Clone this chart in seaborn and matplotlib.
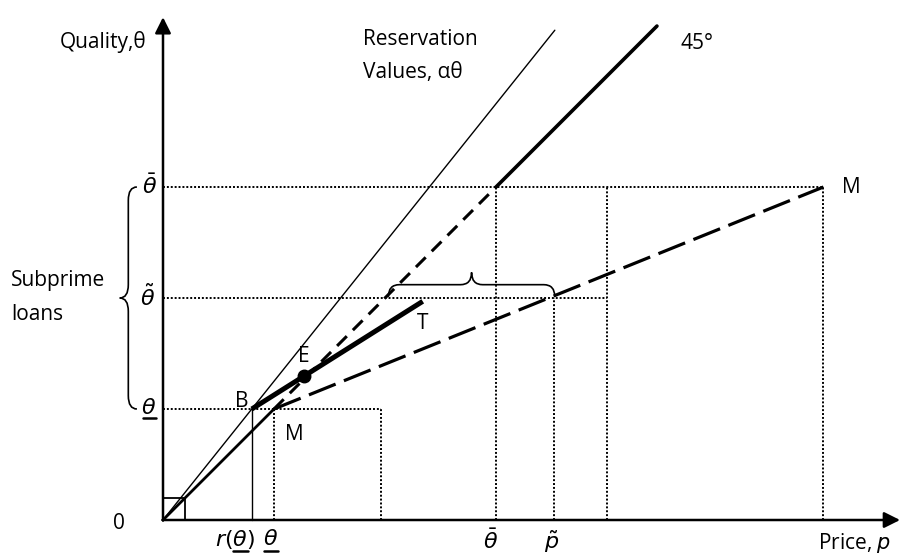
import numpy as np
import pandas as pd
import matplotlib
matplotlib.use("Agg")
import matplotlib.pyplot as plt
from matplotlib.path import Path
from matplotlib.patches import PathPatch, Rectangle
import seaborn as sns

# ---- key values of the diagram (units: quality / price) ----
theta_low = 1.0      # lower quality bound (underline theta)
theta_tilde = 2.0    # theta tilde
theta_bar = 3.0      # theta bar
r_theta_low = 0.8    # r(theta_low)
alpha = 1.25         # slope of reservation values line
p_tilde = 3.52       # p tilde
x_rect = 1.96        # right edge of small dotted box
x_mid = 4.0          # dotted vertical beyond p tilde
p_M = 5.95           # price at upper M
res_end = 3.53       # end of reservation line (x)
deg45_end = 4.45     # end of 45 degree line (x)
T_end = (2.34, 1.97) # end of T line
E_pt = (1.27, 1.30)  # point E
x_axis_end = 6.64
y_axis_end = 4.53

sns.set_theme(style="white")
plt.rcParams['font.family'] = ['Open Sans', 'DejaVu Sans']
plt.rcParams['mathtext.fontset'] = 'dejavusans'

W, H = 901, 556
scale = 111.0
ox, oy = 163, 520
fig = plt.figure(figsize=(W / 100, H / 100), dpi=100)
ax = fig.add_axes([0, 0, 1, 1])
ax.set_xlim(-ox / scale, (W - ox) / scale)
ax.set_ylim(-(H - oy) / scale, oy / scale)
ax.axis('off')

def line(xs, ys, **kw):
    df = pd.DataFrame({'x': xs, 'y': ys})
    sns.lineplot(data=df, x='x', y='y', ax=ax, estimator=None, sort=False,
                 color='black', legend=False, **kw)

dot = dict(lw=1.4, linestyle=(0, (1, 1)))

# dotted guide lines
line([0, p_M], [theta_bar, theta_bar], **dot)
line([0, x_mid], [theta_tilde, theta_tilde], **dot)
line([0, x_rect], [theta_low, theta_low], **dot)
line([theta_low, theta_low], [0, theta_low], **dot)
line([x_rect, x_rect], [0, theta_low], **dot)
line([theta_bar, theta_bar], [0, theta_bar], **dot)
line([p_tilde, p_tilde], [0, theta_tilde], **dot)
line([x_mid, x_mid], [0, theta_bar], **dot)
line([p_M, p_M], [0, theta_bar], **dot)
# r(theta) solid thin
line([r_theta_low, r_theta_low], [0, theta_low], lw=1.0)

# reservation values line
line([0, res_end], [0, alpha * res_end], lw=1.0)
# 45 degree line: solid to theta_low, dashed to theta_bar, thick beyond
line([0, theta_low], [0, theta_low], lw=2.0)
line([theta_low, theta_bar], [theta_low, theta_bar], lw=2.2, linestyle=(0, (4.5, 2.8)))
line([theta_bar, deg45_end], [theta_bar, deg45_end], lw=2.6)
# M line dashed
line([theta_low, p_M], [theta_low, theta_bar], lw=2.3, linestyle=(0, (9, 2.8)))
# T line
line([r_theta_low, T_end[0]], [theta_low, T_end[1]], lw=3.6, solid_capstyle='butt')
# E point
ax.plot([E_pt[0]], [E_pt[1]], 'o', color='black', ms=9)

# small square at origin
ax.add_patch(Rectangle((0, 0), 0.2, 0.2, fill=False, lw=1.3, ec='black'))

# axes with arrows
ax.annotate('', xy=(0, y_axis_end), xytext=(0, -0.005),
            arrowprops=dict(arrowstyle='-|>', lw=1.8, color='black', mutation_scale=24,
                            shrinkA=0, shrinkB=0))
ax.annotate('', xy=(x_axis_end, 0), xytext=(-0.005, 0),
            arrowprops=dict(arrowstyle='-|>', lw=1.8, color='black', mutation_scale=24,
                            shrinkA=0, shrinkB=0))

# braces
def vbrace(x0, yb, yt, d, r):
    ym = (yb + yt) / 2
    xm = x0 - d / 2
    verts = [(x0, yb), (xm, yb), (xm, yb + r), (xm, ym - r), (xm, ym), (x0 - d, ym),
             (xm, ym), (xm, ym + r), (xm, yt - r), (xm, yt), (x0, yt)]
    codes = [Path.MOVETO, Path.CURVE3, Path.CURVE3, Path.LINETO, Path.CURVE3, Path.CURVE3,
             Path.CURVE3, Path.CURVE3, Path.LINETO, Path.CURVE3, Path.CURVE3]
    ax.add_patch(PathPatch(Path(verts, codes), fill=False, lw=1.2, ec='black'))

def hbrace(xl, xr, y0, d, r):
    xmid = (xl + xr) / 2
    ymm = y0 + d / 2
    verts = [(xl, y0), (xl, ymm), (xl + r, ymm), (xmid - r, ymm), (xmid, ymm), (xmid, y0 + d),
             (xmid, ymm), (xmid + r, ymm), (xr - r, ymm), (xr, ymm), (xr, y0)]
    codes = [Path.MOVETO, Path.CURVE3, Path.CURVE3, Path.LINETO, Path.CURVE3, Path.CURVE3,
             Path.CURVE3, Path.CURVE3, Path.LINETO, Path.CURVE3, Path.CURVE3]
    ax.add_patch(PathPatch(Path(verts, codes), fill=False, lw=1.2, ec='black'))

vbrace(-0.235, theta_low, theta_bar, 0.155, 0.12)
hbrace(2.03, 3.53, 2.01, 0.22, 0.1)

fs = 15
tk = dict(fontsize=fs, color='black')
mk = dict(fontsize=16, color='black')
ax.text(-0.15, 4.31, 'Quality,θ', ha='right', va='center', **tk)
ax.text(1.80, 4.33, 'Reservation', ha='left', va='center', **tk)
ax.text(1.80, 4.03, 'Values, αθ', ha='left', va='center', **tk)
ax.text(4.66, 4.29, '45°', ha='left', va='center', **tk)
ax.text(6.12, 3.0, 'M', ha='left', va='center', **tk)
ax.text(2.34, 1.77, 'T', ha='center', va='center', **tk)
ax.text(1.27, 1.47, 'E', ha='center', va='center', **tk)
ax.text(0.71, 1.07, 'B', ha='center', va='center', **tk)
ax.text(1.18, 0.77, 'M', ha='center', va='center', **tk)
ax.text(-0.40, -0.03, '0', ha='center', va='center', **tk)
ax.text(-1.37, 2.16, 'Subprime', ha='left', va='center', **tk)
ax.text(-1.37, 1.85, 'loans', ha='left', va='center', **tk)
ax.text(5.90, -0.21, 'Price, $p$', ha='left', va='center', **tk)

# math labels
ax.text(-0.12, theta_bar, r'$\bar{\theta}$', ha='center', va='center', **mk)
ax.text(-0.135, theta_tilde, r'$\tilde{\theta}$', ha='center', va='center', **mk)
ax.text(-0.126, theta_low, r'$\theta$', ha='center', va='center', **mk)
ax.plot([-0.18, -0.06], [0.92, 0.92], color='black', lw=1.8)
ax.text(0.65, -0.18, r'$r(\theta)$', ha='center', va='center', **mk)
ax.plot([0.63, 0.77], [-0.28, -0.28], color='black', lw=1.8)
ax.text(0.97, -0.18, r'$\theta$', ha='center', va='center', **mk)
ax.plot([0.91, 1.04], [-0.28, -0.28], color='black', lw=1.8)
ax.text(2.95, -0.20, r'$\bar{\theta}$', ha='center', va='center', **mk)
ax.text(3.50, -0.195, r'$\tilde{p}$', ha='center', va='center', **mk)

fig.savefig('out.png', dpi=100)
